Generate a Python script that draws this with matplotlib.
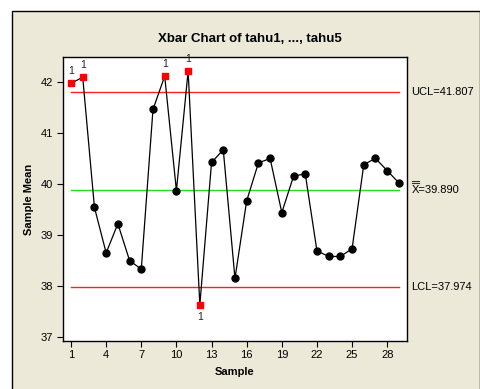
import matplotlib.pyplot as plt
import matplotlib.patches as patches
import matplotlib.transforms as mtransforms
import numpy as np

plt.rcParams['font.family'] = ['Liberation Sans', 'DejaVu Sans']

samples = np.arange(1, 30)
means = [41.97, 42.09, 39.54, 38.65, 39.22, 38.50, 38.33, 41.46, 42.11, 39.87,
         42.21, 37.63, 40.42, 40.67, 38.15, 39.67, 40.41, 40.50, 39.44, 40.15,
         40.20, 38.69, 38.58, 38.58, 38.73, 40.38, 40.50, 40.26, 40.02]
ucl = 41.807
center = 39.890
lcl = 37.974
xticks = [1, 4, 7, 10, 13, 16, 19, 22, 25, 28]
yticks = [37, 38, 39, 40, 41, 42]

W, H = 481, 389
fig = plt.figure(figsize=(W / 100, H / 100), dpi=100)
fig.patch.set_facecolor('white')

# beige panel, black border on left/top/right
panel = patches.Rectangle((12 / W, -0.01), 1 - 12.5 / W, 1 - 11 / H + 0.01, transform=fig.transFigure,
                          facecolor='#ECE9D8', edgecolor='black', linewidth=1, zorder=-10)
fig.patches.append(panel)

ax = fig.add_axes([62.7 / W, 1 - 340.7 / H, (407 - 62.7) / W, (340.7 - 57.3) / H])
ax.set_facecolor('white')

ax.plot([1, 29], [ucl, ucl], color='#FF2020', lw=1)
ax.plot([1, 29], [lcl, lcl], color='#FF2020', lw=1)
ax.plot([1, 29], [center, center], color='#22DD22', lw=1)

ax.plot(samples, means, color='black', lw=0.9, zorder=3)
out = [(s, m) for s, m in zip(samples, means) if m > ucl or m < lcl]
inn = [(s, m) for s, m in zip(samples, means) if lcl <= m <= ucl]
ax.plot([p[0] for p in inn], [p[1] for p in inn], 'o', color='black', ms=5, zorder=4)
ax.plot([p[0] for p in out], [p[1] for p in out], 's', color='#FF0000', ms=5, zorder=4)
for s, m in out:
    if m > ucl:
        ax.annotate('1', (s, m), xytext=(0, 5), textcoords='offset points',
                    ha='center', va='bottom', fontsize=7.5, color='#222222')
    else:
        ax.annotate('1', (s, m), xytext=(0, -5), textcoords='offset points',
                    ha='center', va='top', fontsize=7.5, color='#222222')

ax.set_xlim(0.29, 29.69)
ax.set_ylim(36.93, 42.48)
ax.set_xticks(xticks)
ax.set_yticks(yticks)
ax.tick_params(direction='out', length=4, width=0.8, labelsize=8, pad=3)
for sp in ax.spines.values():
    sp.set_linewidth(1)

fig.text(250 / W, 1 - 39 / H, 'Xbar Chart of tahu1, ..., tahu5', fontsize=9.5,
         fontweight='bold', ha='center', va='center')
ax.set_xlabel('Sample', fontsize=8, fontweight='bold', labelpad=5)
ax.set_ylabel('Sample Mean', fontsize=8, fontweight='bold', labelpad=5)

tr = ax.get_yaxis_transform()
ax.text(1.013, ucl, 'UCL=41.807', transform=tr, fontsize=8, va='center', ha='left')
ax.text(1.013, lcl, 'LCL=37.974', transform=tr, fontsize=8, va='center', ha='left')
ax.text(1.013, center, 'X=39.890', transform=tr, fontsize=8, va='center', ha='left')
# double bar over the X
for dy in (6.5, 8.5):
    t = mtransforms.offset_copy(tr, fig=fig, x=0, y=dy * 72 / 100, units='points')
    ax.plot([1.0145, 1.0345], [center, center], color='#333333', lw=0.8,
            transform=t, clip_on=False)

fig.savefig('out.png', dpi=100)
